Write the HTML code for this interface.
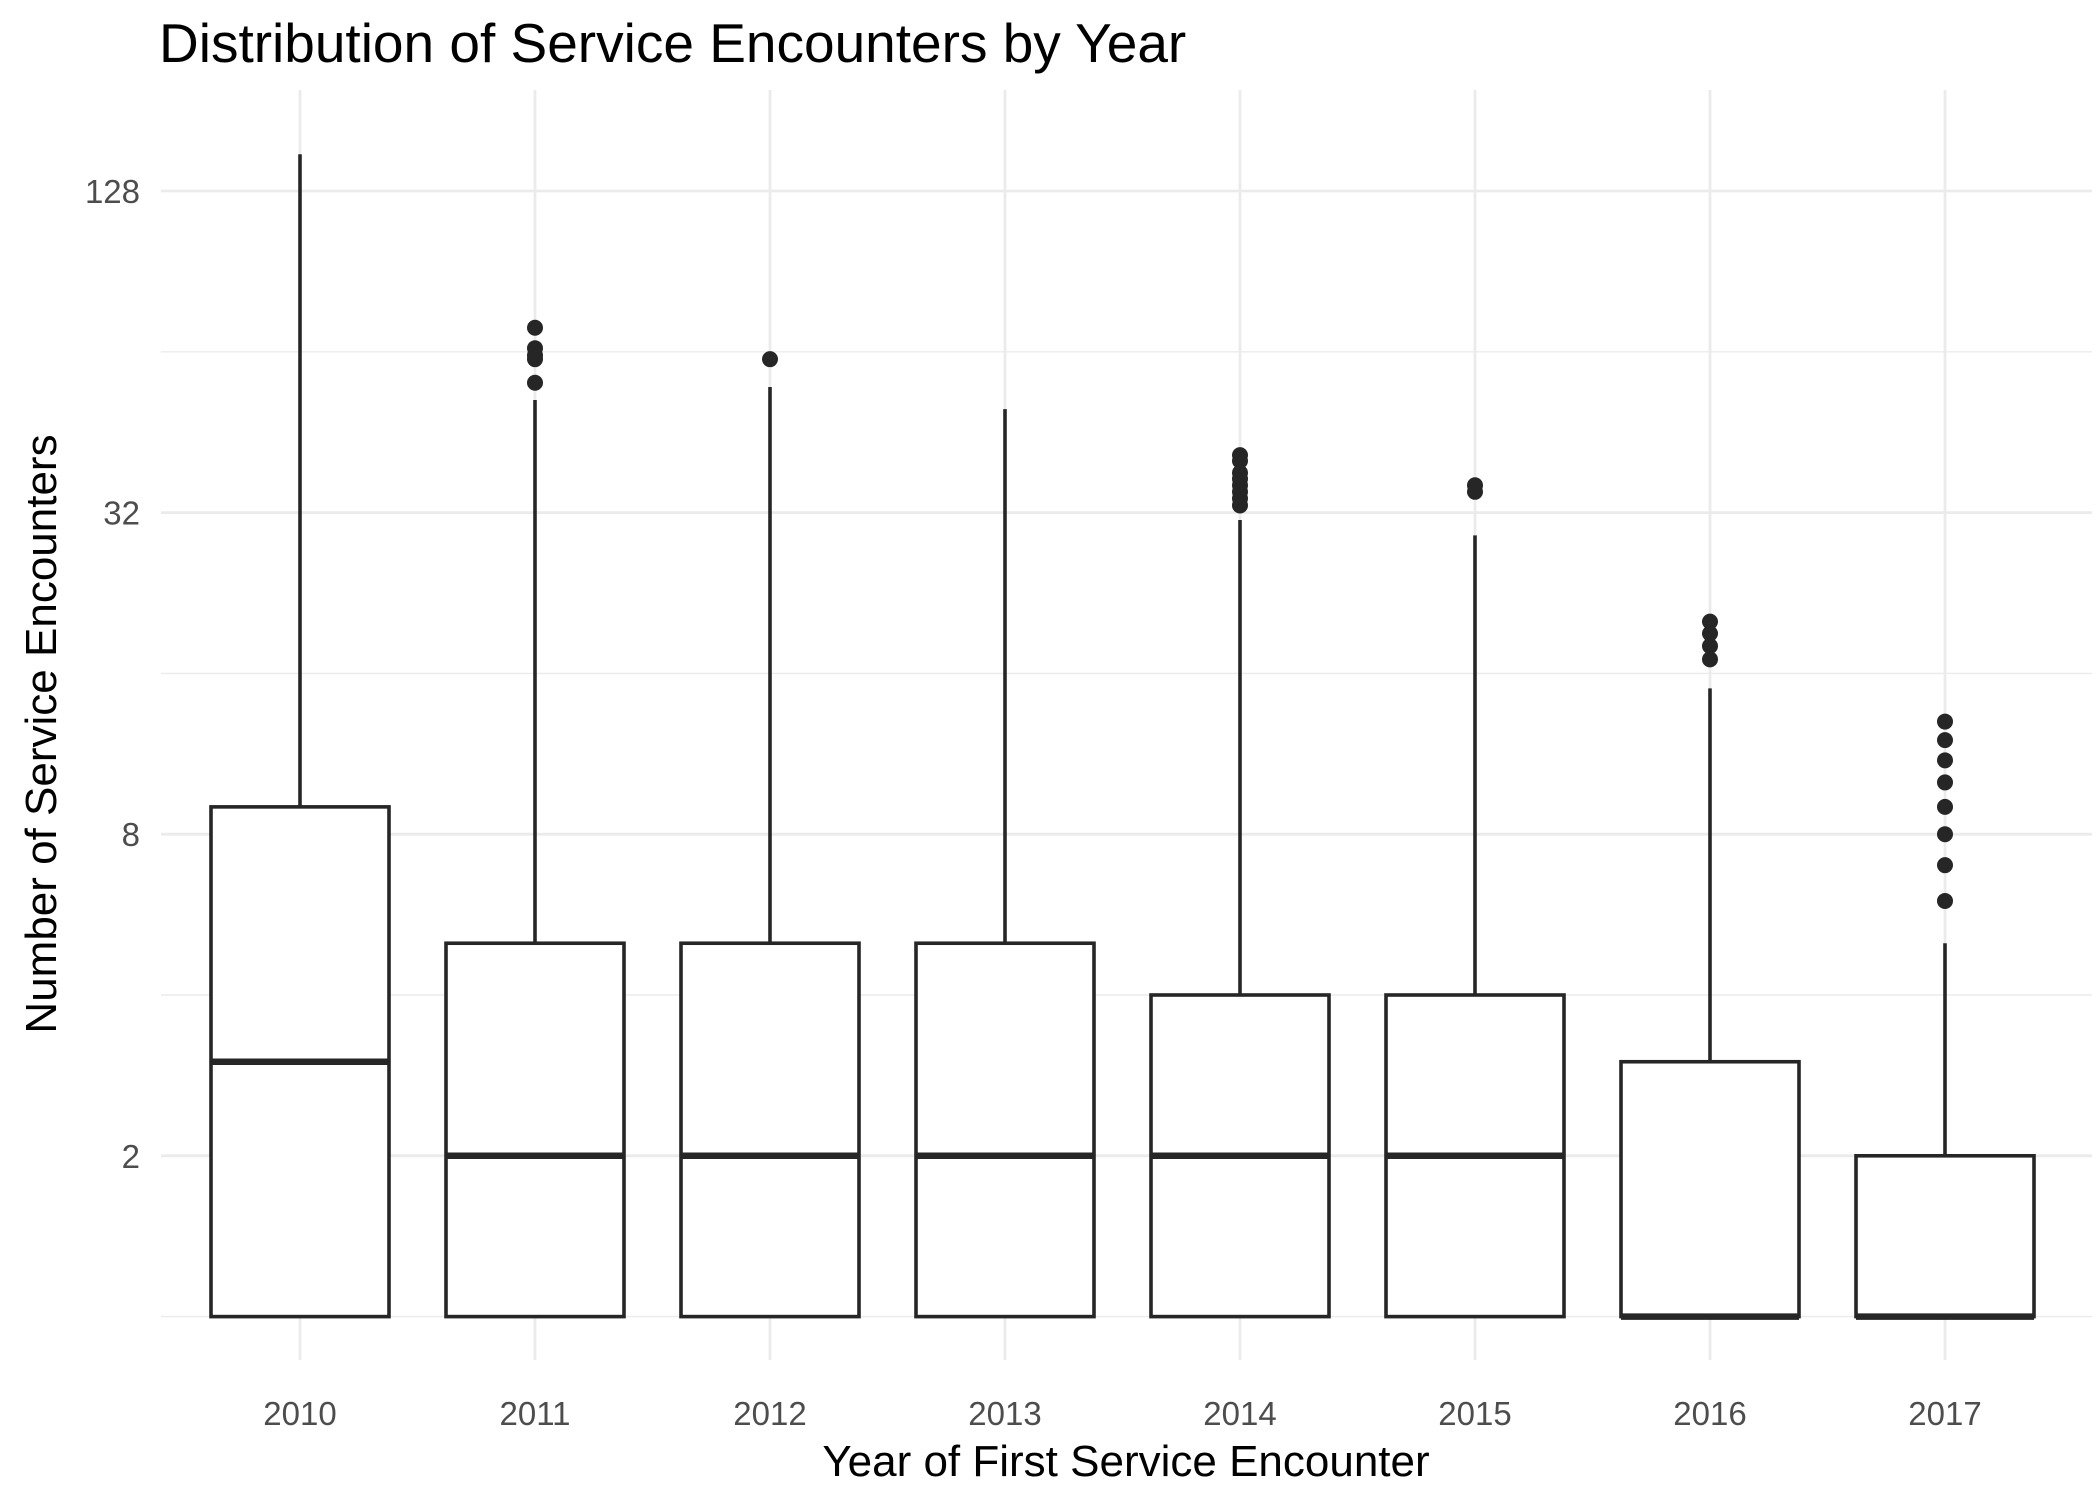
<!DOCTYPE html>
<html><head><meta charset="utf-8"><style>
body{margin:0;background:#fff;}
svg{display:block;font-family:"Liberation Sans",sans-serif;}
</style></head><body>
<svg id="chart" width="2099" height="1499" viewBox="0 0 2099 1499">
<text x="159" y="62" font-size="55" fill="#000">Distribution of Service Encounters by Year</text>
<text transform="translate(56,734) rotate(-90)" text-anchor="middle" font-size="44" fill="#000">Number of Service Encounters</text>
<text x="1126" y="1476" text-anchor="middle" font-size="44" fill="#000">Year of First Service Encounter</text>
<g id="grid"></g><g id="marks"></g><g id="labels"></g>
</svg>
<script>
const years = ["2010","2011","2012","2013","2014","2015","2016","2017"];
const q1 = [1,1,1,1,1,1,1,1];
const medians = [3,2,2,2,2,2,1,1];
const q3 = [9,5,5,5,4,4,3,2];
const whiskerHigh = [150,52,55,50,31,29,15,5];
const outliers = [[],[71,65,63,62,56],[62],[],[41,40,38,37,36,35,34,33],[36,35],[20,19,18,17],[13,12,11,10,9,8,7,6]];
const yTicks = [2,8,32,128];
const yMinor = [1,4,16,64];

const NS="http://www.w3.org/2000/svg";
const left=161,right=2092;
function yScale(v){return 191+(7-Math.log2(v))*160.8;}
function xScale(i){return 300+i*235;}
function mk(tag,attrs,parent){const e=document.createElementNS(NS,tag);for(const k in attrs)e.setAttribute(k,attrs[k]);parent.appendChild(e);return e;}
const grid=document.getElementById('grid'),marks=document.getElementById('marks'),labels=document.getElementById('labels');
yMinor.forEach(v=>{const l=mk('line',{x1:left,x2:right,y1:yScale(v),y2:yScale(v),stroke:'#ebebeb','stroke-width':1.4},grid);

});
yTicks.forEach(v=>{const l=mk('line',{x1:left,x2:right,y1:yScale(v),y2:yScale(v),stroke:'#ebebeb','stroke-width':2.8},grid);


const t=mk('text',{x:140,y:yScale(v)+12,'text-anchor':'end','font-size':33,fill:'#4d4d4d'},labels);t.textContent=v;

});
years.forEach((yr,i)=>{const x=xScale(i);
const g=mk('line',{x1:x,x2:x,y1:90,y2:1360,stroke:'#ebebeb','stroke-width':2.8},grid);


const t=mk('text',{x:x,y:1425,'text-anchor':'middle','font-size':33,fill:'#4d4d4d'},labels);t.textContent=yr;


const w=mk('line',{x1:x,x2:x,y1:yScale(whiskerHigh[i]),y2:yScale(q3[i]),stroke:'#262626','stroke-width':3.6},marks);


const b=mk('rect',{x:x-89,y:yScale(q3[i]),width:178,height:yScale(q1[i])-yScale(q3[i]),fill:'#fff',stroke:'#262626','stroke-width':3.6},marks);


const m=mk('line',{x1:x-89,x2:x+89,y1:yScale(medians[i]),y2:yScale(medians[i]),stroke:'#262626','stroke-width':6.5},marks);


outliers[i].forEach(v=>{const c=mk('circle',{cx:x,cy:yScale(v),r:8,fill:'#262626'},marks);

});
});
</script>
</body></html>
